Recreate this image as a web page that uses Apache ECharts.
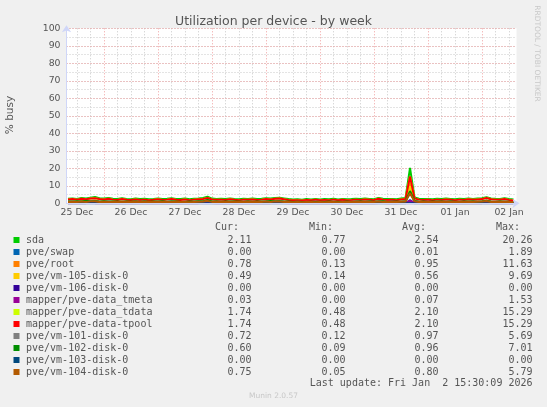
<!DOCTYPE html>
<html lang="en">
<head>
<meta charset="UTF-8">
<title>Utilization per device - by week</title>
<script src="https://cdn.jsdelivr.net/npm/echarts@6/dist/echarts.min.js"></script>
<style>
    html, body { margin: 0; padding: 0; background: #f0f0f0; }
    #chart { width: 547px; height: 407px; }
</style>
</head>
<body>
<div id="chart"></div>
<script>
// x = hours since 25 Dec 00:00, one reading every 2 hours
var startHour = 8, stepHours = 2;
var xMin = 7.33, xMax = 207.33;

var dayLabels = ['25 Dec', '26 Dec', '27 Dec', '28 Dec', '29 Dec', '30 Dec', '31 Dec', '01 Jan', '02 Jan'];
var labelHours = [12, 36, 60, 84, 108, 132, 156, 180, 204];
var dayLines = [24, 48, 72, 96, 120, 144, 168, 192];
var sixHourLines = [12, 18, 30, 36, 42, 54, 60, 66, 78, 84, 90, 102, 108, 114, 126, 132, 138, 150, 156, 162, 174, 180, 186, 198, 204];

var deviceNames = ['sda', 'pve/swap', 'pve/root', 'pve/vm-105-disk-0', 'pve/vm-106-disk-0', 'mapper/pve-data_tmeta',
    'mapper/pve-data_tdata', 'mapper/pve-data-tpool', 'pve/vm-101-disk-0', 'pve/vm-102-disk-0', 'pve/vm-103-disk-0', 'pve/vm-104-disk-0'];
var deviceColors = ['#00cc00', '#0066b3', '#ff8000', '#ffcc00', '#330099', '#990099',
    '#ccff00', '#ff0000', '#808080', '#008f00', '#00487d', '#b35a00'];

var curValues = [2.11, 0.00, 0.78, 0.49, 0.00, 0.03, 1.74, 1.74, 0.72, 0.60, 0.00, 0.75];
var minValues = [0.77, 0.00, 0.13, 0.14, 0.00, 0.00, 0.48, 0.48, 0.12, 0.09, 0.00, 0.05];
var avgValues = [2.54, 0.01, 0.95, 0.56, 0.00, 0.07, 2.10, 2.10, 0.97, 0.96, 0.00, 0.80];
var maxValues = [20.26, 1.89, 11.63, 9.69, 0.00, 1.53, 15.29, 15.29, 5.69, 7.01, 0.00, 5.79];

var sda = [2.6, 2.8, 2.5, 3.0, 2.7, 3.2, 3.6, 2.9,
    2.7, 3.1, 2.6, 2.4, 2.9, 2.5, 2.3, 2.7,
    2.4, 2.6, 2.3, 2.5, 2.8, 2.4, 2.6, 2.9,
    2.5, 2.4, 2.7, 2.3, 2.6, 2.8, 3.1, 3.8,
    2.7, 2.5, 2.6, 2.4, 2.8, 2.5, 2.3, 2.6,
    2.5, 2.7, 2.4, 2.6, 2.9, 2.7, 3.0, 3.2,
    2.8, 2.4, 2.2, 2.3, 2.1, 2.4, 2.2, 2.5,
    2.2, 2.4, 2.3, 2.6, 2.2, 2.5, 2.3, 2.4,
    2.6, 2.4, 2.7, 2.5, 2.3, 3.1, 2.6, 2.4,
    2.5, 2.3, 2.7, 3.0, 20.26, 3.4, 2.6, 2.4,
    2.5, 2.3, 2.6, 2.4, 2.7, 2.5, 2.3, 2.6,
    2.4, 2.8, 2.5, 2.7, 2.9, 3.5, 2.8, 2.6,
    2.5, 2.9, 2.4, 2.11];

var swap = [0, 0, 0, 0, 0, 0, 0, 0, 0, 0, 0, 0, 0, 0, 0, 0, 0, 0, 0, 0,
    0, 0, 0, 0, 0, 0, 0, 0, 0, 0, 0, 0, 0, 0, 0, 0, 0, 0, 0, 0,
    0, 0, 0, 0, 0, 0, 0, 0, 0, 0, 0, 0, 0, 0, 0, 0, 0, 0, 0, 0,
    0, 0, 0, 0, 0, 0, 0, 0, 0, 0, 0, 0, 0, 0, 0, 0, 1.89, 0, 0, 0,
    0, 0, 0, 0, 0, 0, 0, 0, 0, 0, 0, 0, 0, 0, 0, 0, 0, 0, 0, 0];

var root = [0.9, 1.1, 0.8, 1.2, 1.0, 1.3, 1.4, 1.0,
    0.9, 1.1, 0.8, 0.7, 1.0, 0.8, 0.7, 0.9,
    0.8, 0.9, 0.7, 0.8, 1.0, 0.8, 0.9, 1.1,
    0.8, 0.7, 0.9, 0.7, 0.9, 1.0, 1.2, 1.6,
    0.9, 0.8, 0.9, 0.7, 1.0, 0.8, 0.7, 0.9,
    0.8, 0.9, 0.7, 0.9, 1.1, 0.9, 1.2, 1.3,
    1.0, 0.8, 0.7, 0.8, 0.6, 0.8, 0.7, 0.9,
    0.7, 0.8, 0.7, 0.9, 0.7, 0.8, 0.7, 0.8,
    0.9, 0.8, 1.0, 0.9, 0.7, 1.2, 0.9, 0.8,
    0.9, 0.7, 1.0, 1.2, 11.63, 1.5, 0.9, 0.8,
    0.9, 0.7, 0.9, 0.8, 1.0, 0.9, 0.7, 0.9,
    0.8, 1.0, 0.9, 1.0, 1.1, 1.5, 1.0, 0.9,
    0.8, 1.1, 0.8, 0.78];

var vm105 = [0.6, 0.5, 0.7, 0.6, 0.8, 0.6, 0.9, 0.5,
    0.6, 0.5, 0.4, 0.6, 0.5, 0.7, 0.5, 0.4,
    0.5, 0.6, 0.4, 0.5, 0.7, 0.5, 0.6, 0.5,
    0.6, 0.4, 0.5, 0.6, 0.4, 0.5, 0.7, 1.0,
    0.5, 0.6, 0.4, 0.5, 0.6, 0.5, 0.4, 0.6,
    0.5, 0.4, 0.6, 0.5, 0.7, 0.6, 0.8, 0.6,
    0.5, 0.4, 0.5, 0.3, 0.4, 0.5, 0.4, 0.5,
    0.4, 0.5, 0.3, 0.5, 0.4, 0.5, 0.4, 0.3,
    0.5, 0.4, 0.6, 0.5, 0.4, 0.7, 0.5, 0.4,
    0.5, 0.4, 0.6, 0.7, 9.69, 0.9, 0.5, 0.4,
    0.5, 0.4, 0.6, 0.5, 0.4, 0.5, 0.6, 0.4,
    0.5, 0.6, 0.4, 0.5, 0.7, 0.9, 0.5, 0.6,
    0.4, 0.6, 0.5, 0.49];

var vm106 = [0, 0, 0, 0, 0, 0, 0, 0, 0, 0, 0, 0, 0, 0, 0, 0, 0, 0, 0, 0,
    0, 0, 0, 0, 0, 0, 0, 0, 0, 0, 0, 0, 0, 0, 0, 0, 0, 0, 0, 0,
    0, 0, 0, 0, 0, 0, 0, 0, 0, 0, 0, 0, 0, 0, 0, 0, 0, 0, 0, 0,
    0, 0, 0, 0, 0, 0, 0, 0, 0, 0, 0, 0, 0, 0, 0, 0, 0, 0, 0, 0,
    0, 0, 0, 0, 0, 0, 0, 0, 0, 0, 0, 0, 0, 0, 0, 0, 0, 0, 0, 0];

var tmeta = [0.1, 0.1, 0.0, 0.1, 0.1, 0.2, 0.1, 0.1, 0.0, 0.1,
    0.1, 0.0, 0.1, 0.0, 0.0, 0.1, 0.0, 0.1, 0.0, 0.0,
    0.1, 0.0, 0.1, 0.1, 0.0, 0.0, 0.1, 0.0, 0.1, 0.1,
    0.2, 0.3, 0.1, 0.0, 0.1, 0.0, 0.1, 0.0, 0.0, 0.1,
    0.0, 0.1, 0.0, 0.1, 0.1, 0.1, 0.2, 0.2, 0.1, 0.0,
    0.0, 0.0, 0.0, 0.1, 0.0, 0.0, 0.0, 0.1, 0.0, 0.1,
    0.0, 0.0, 0.0, 0.0, 0.1, 0.0, 0.1, 0.0, 0.0, 0.2,
    0.1, 0.0, 0.1, 0.0, 0.1, 0.2, 1.53, 0.3, 0.1, 0.0,
    0.1, 0.0, 0.0, 0.1, 0.0, 0.1, 0.0, 0.0, 0.1, 0.0,
    0.1, 0.1, 0.1, 0.3, 0.1, 0.0, 0.1, 0.1, 0.0, 0.03];

var tpool = [2.2, 2.5, 2.1, 2.6, 2.3, 2.7, 2.9, 2.4,
    2.2, 2.6, 2.1, 1.9, 2.4, 2.0, 1.9, 2.2,
    1.9, 2.1, 1.8, 2.0, 2.3, 1.9, 2.1, 2.4,
    2.0, 1.9, 2.2, 1.8, 2.1, 2.3, 2.5, 3.0,
    2.2, 2.0, 2.1, 1.9, 2.3, 2.0, 1.8, 2.1,
    2.0, 2.2, 1.9, 2.1, 2.4, 2.2, 2.6, 2.8,
    2.3, 1.9, 1.7, 1.8, 1.6, 1.9, 1.7, 2.0,
    1.7, 1.9, 1.8, 2.1, 1.7, 2.0, 1.8, 1.9,
    2.1, 1.9, 2.2, 2.0, 1.8, 2.6, 2.1, 1.9,
    2.0, 1.8, 2.2, 2.5, 15.29, 2.8, 2.1, 1.9,
    2.0, 1.8, 2.1, 1.9, 2.2, 2.0, 1.8, 2.1,
    1.9, 2.3, 2.0, 2.2, 2.4, 3.0, 2.3, 2.1,
    2.0, 2.4, 1.9, 1.74];

// tdata reads the same as tpool in the legend and lies under it
var tdata = tpool;

var vm101 = [1.0, 1.2, 0.9, 1.1, 1.0, 1.3, 1.5, 1.1,
    1.0, 1.2, 0.9, 0.8, 1.1, 0.9, 0.8, 1.0,
    0.9, 1.0, 0.8, 0.9, 1.1, 0.9, 1.0, 1.2,
    0.9, 0.8, 1.0, 0.8, 1.0, 1.1, 1.3, 1.7,
    1.0, 0.9, 1.0, 0.8, 1.1, 0.9, 0.8, 1.0,
    0.9, 1.0, 0.8, 1.0, 1.2, 1.0, 1.3, 1.4,
    1.1, 0.9, 0.8, 0.9, 0.7, 0.9, 0.8, 1.0,
    0.8, 0.9, 0.8, 1.0, 0.8, 0.9, 0.8, 0.9,
    1.0, 0.9, 1.1, 1.0, 0.8, 1.3, 1.0, 0.9,
    1.0, 0.8, 1.1, 1.3, 5.69, 1.6, 1.0, 0.9,
    1.0, 0.8, 1.0, 0.9, 1.1, 1.0, 0.8, 1.0,
    0.9, 1.1, 1.0, 1.1, 1.2, 1.6, 1.1, 1.0,
    0.9, 1.2, 0.9, 0.72];

var vm102 = [1.1, 0.9, 1.2, 1.0, 1.4, 1.1, 1.3, 0.9,
    1.2, 0.9, 1.0, 1.1, 0.8, 1.0, 0.9, 1.1,
    0.8, 1.1, 0.9, 1.0, 0.9, 1.2, 0.8, 1.0,
    1.1, 0.9, 0.8, 1.0, 0.9, 1.2, 1.0, 1.9,
    0.9, 1.1, 0.8, 1.0, 0.9, 1.1, 1.0, 0.8,
    1.0, 0.8, 1.1, 0.9, 1.0, 1.3, 1.1, 1.2,
    0.9, 1.0, 0.7, 0.9, 0.8, 0.7, 0.9, 0.8,
    0.9, 0.7, 1.0, 0.8, 0.9, 0.8, 1.0, 0.7,
    0.9, 1.1, 0.8, 1.0, 0.9, 1.0, 1.2, 0.8,
    0.9, 1.0, 0.8, 1.1, 7.01, 1.4, 0.8, 1.0,
    0.8, 1.0, 0.9, 1.1, 0.8, 1.0, 0.9, 0.8,
    1.0, 0.9, 1.1, 0.8, 1.0, 1.4, 0.9, 0.8,
    1.0, 0.7, 0.9, 0.60];

var vm103 = vm106;

var vm104 = [0.8, 0.9, 0.7, 1.0, 0.8, 1.1, 1.2, 0.8,
    0.9, 0.8, 0.7, 0.8, 0.9, 0.7, 0.8, 0.9,
    0.7, 0.8, 0.9, 0.7, 0.8, 0.9, 0.7, 0.8,
    0.9, 0.7, 0.8, 0.6, 0.8, 0.9, 1.0, 1.4,
    0.8, 0.7, 0.9, 0.8, 0.7, 0.8, 0.9, 0.7,
    0.8, 0.9, 0.7, 0.8, 1.0, 0.8, 1.1, 1.0,
    0.8, 0.7, 0.6, 0.7, 0.6, 0.8, 0.7, 0.6,
    0.7, 0.6, 0.8, 0.7, 0.6, 0.7, 0.8, 0.7,
    0.8, 0.7, 0.9, 0.8, 0.7, 1.0, 0.8, 0.7,
    0.8, 0.7, 0.9, 1.0, 5.79, 1.2, 0.8, 0.7,
    0.8, 0.7, 0.8, 0.9, 0.7, 0.8, 0.7, 0.8,
    0.7, 0.9, 0.8, 0.9, 1.0, 1.3, 0.8, 0.7,
    0.8, 0.9, 0.7, 0.75];

var seriesValues = [sda, swap, root, vm105, vm106, tmeta, tdata, tpool, vm101, vm102, vm103, vm104];

var textColor = '#555555';
var axisColor = '#cfd6f8';
var majorGrid = '#f0a0a0';
var minorGrid = '#c8c8c8';

var chart = echarts.init(document.getElementById('chart'));

// series in legend order, later ones drawn on top (like rrdtool)
var series = seriesValues.map(function (vals, k) {
    return {
        type: 'line',
        name: deviceNames[k],
        xAxisIndex: 0,
        yAxisIndex: 0,
        data: vals.map(function (v, i) { return [startHour + i * stepHours, v]; }),
        symbol: 'none',
        lineStyle: { color: deviceColors[k], width: 2 },
        itemStyle: { color: deviceColors[k] },
        silent: true,
        z: 5
    };
});

// legend table below the chart
var graphics = [];
var rowY0 = 240, rowH = 12;
var mono = '"DejaVu Sans Mono", monospace';
function txt(x, y, s, align, size, color, family, rot) {
    graphics.push({
        type: 'text', x: x, y: y, rotation: rot || 0, silent: true,
        style: { text: s, fill: color || textColor, font: (size || 10) + 'px ' + (family || mono),
            textAlign: align || 'left', textVerticalAlign: 'middle' }
    });
}
txt(239, 227.5, 'Cur:', 'right');
txt(333, 227.5, 'Min:', 'right');
txt(426, 227.5, 'Avg:', 'right');
txt(520, 227.5, 'Max:', 'right');
deviceNames.forEach(function (name, i) {
    var y = rowY0 + i * rowH;
    graphics.push({
        type: 'rect', silent: true,
        shape: { x: 13.5, y: y - 3, width: 6, height: 6 },
        style: { fill: deviceColors[i] }
    });
    txt(26, y, name, 'left');
    txt(251.5, y, curValues[i].toFixed(2), 'right');
    txt(345.5, y, minValues[i].toFixed(2), 'right');
    txt(438.5, y, avgValues[i].toFixed(2), 'right');
    txt(532.5, y, maxValues[i].toFixed(2), 'right');
});
txt(532.5, 383.5, 'Last update: Fri Jan  2 15:30:09 2026', 'right');
txt(273.5, 396, 'Munin 2.0.57', 'center', 7.5, '#c8c8c8', '"DejaVu Sans", sans-serif');
txt(537, 53.5, 'RRDTOOL / TOBI OETIKER', 'center', 7.5, '#c8c8c8', '"DejaVu Sans", sans-serif', -Math.PI / 2);
txt(10.5, 115, '% busy', 'center', 10.5, textColor, '"DejaVu Sans", sans-serif', Math.PI / 2);

var gridAxisX = function (values, color, z) {
    return {
        type: 'value', min: xMin, max: xMax, z: z,
        axisLine: { show: false }, axisLabel: { show: false },
        axisTick: { show: false, customValues: values },
        splitLine: { show: true, lineStyle: { color: color, width: 1, type: [1, 2] } }
    };
};
var gridAxisY = function (step, color, z) {
    return {
        type: 'value', min: 0, max: 100, interval: step, z: z,
        axisLine: { show: false }, axisLabel: { show: false }, axisTick: { show: false },
        splitLine: { show: true, lineStyle: { color: color, width: 1, type: [1, 2] } }
    };
};

var option = {
    backgroundColor: '#f0f0f0',
    animation: false,
    textStyle: { fontFamily: '"DejaVu Sans", sans-serif' },
    title: {
        text: 'Utilization per device - by week',
        left: 'center', top: 10,
        textStyle: { color: textColor, fontSize: 12.5, fontWeight: 'normal', fontFamily: '"DejaVu Sans", sans-serif' }
    },
    grid: {
        left: 66.5, right: 30.5, top: 28.3, bottom: 203.7,
        show: true, backgroundColor: '#ffffff', borderWidth: 0
    },
    xAxis: [
        {
            type: 'value', min: xMin, max: xMax, z: 6,
            axisLine: { show: true, symbol: ['none', 'arrow'], symbolSize: [7, 7], symbolOffset: [0, 3],
                lineStyle: { color: axisColor, width: 1 } },
            axisTick: { show: false },
            splitLine: { show: false },
            axisLabel: {
                customValues: labelHours, margin: 5, color: textColor, fontSize: 9.3,
                fontFamily: '"DejaVu Sans", sans-serif',
                formatter: function (v) { return dayLabels[Math.round((v - 12) / 24)]; }
            }
        },
        gridAxisX(sixHourLines, minorGrid, 1),
        gridAxisX(dayLines, majorGrid, 2)
    ],
    yAxis: [
        {
            type: 'value', min: 0, max: 100, interval: 10, z: 6,
            axisLine: { show: true, symbol: ['none', 'arrow'], symbolSize: [7, 7], symbolOffset: [0, 3],
                lineStyle: { color: axisColor, width: 1 } },
            axisTick: { show: false },
            splitLine: { show: false },
            axisLabel: { margin: 6, color: textColor, fontSize: 9.3, fontFamily: '"DejaVu Sans", sans-serif' }
        },
        gridAxisY(5, minorGrid, 1),
        gridAxisY(10, majorGrid, 2)
    ],
    graphic: graphics,
    series: series
};

chart.setOption(option);
</script>
</body>
</html>
